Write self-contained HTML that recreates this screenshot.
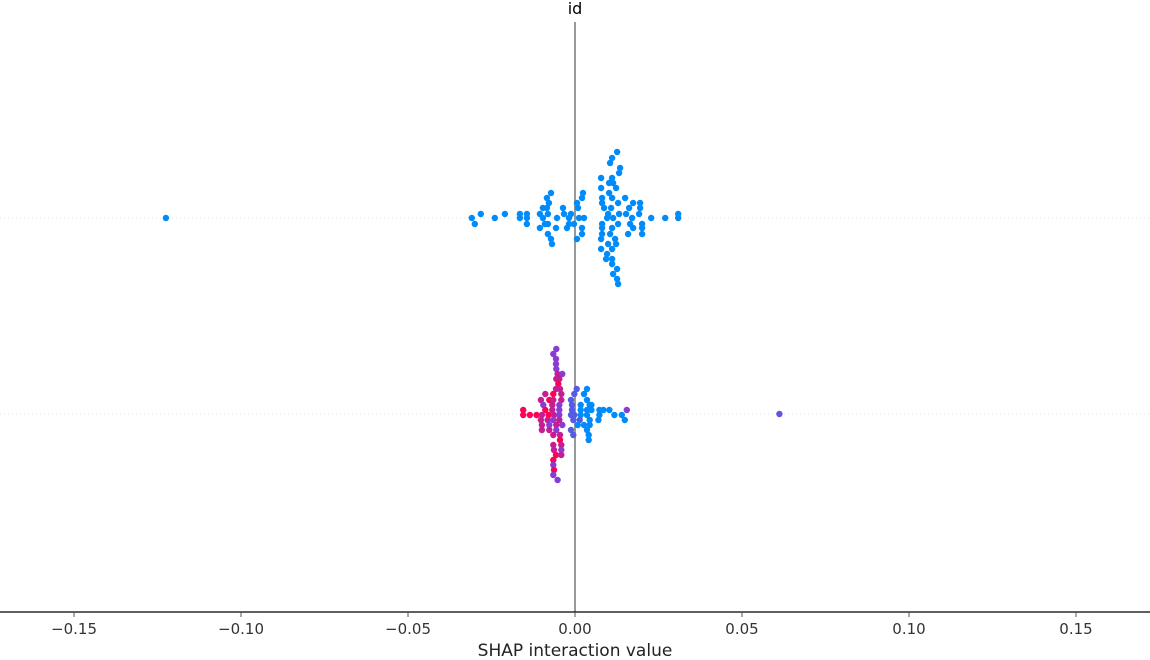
<!DOCTYPE html>
<html><head><meta charset="utf-8">
<style>
html,body{margin:0;padding:0;background:#fff;}
svg{display:block;font-family:"DejaVu Sans","Liberation Sans",sans-serif;}
</style></head>
<body>
<svg id="chart" width="1150" height="660" viewBox="0 0 1150 660" xmlns="http://www.w3.org/2000/svg">
<text x="575" y="14" text-anchor="middle" font-size="16" fill="#000">id</text>
<g id="grid"></g>
<line x1="575" y1="22" x2="575" y2="612" stroke="#999" stroke-width="2"/>
<g id="dots"></g>
<line x1="0" y1="612" x2="1150" y2="612" stroke="#000" stroke-width="1.2"/>
<g id="ticks"></g>
<text x="575" y="656" text-anchor="middle" font-size="17" fill="#222">SHAP interaction value</text>
</svg>
<script>
const tickValues = [-0.15, -0.10, -0.05, 0.00, 0.05, 0.10, 0.15];
const tickLabels = ["\u22120.15", "\u22120.10", "\u22120.05", "0.00", "0.05", "0.10", "0.15"];
const rowNames = ["row-1", "row-2"];

// row 1 (all low feature value = blue)
const row1Values = [-0.1225,-0.0309,-0.030,-0.0282,-0.024,-0.021,-0.0165,-0.0165,-0.0144,-0.0144,-0.0144,-0.0105,-0.0105,-0.0096,-0.0096,-0.009,-0.0084,-0.0084,-0.0081,-0.0081,-0.0081,-0.0078,-0.0072,-0.0072,-0.0069,-0.0057,-0.0054,-0.0036,-0.0033,-0.0024,-0.0018,-0.0018,-0.0012,-0.0003,0.0006,0.0006,0.0009,0.0012,0.0021,0.0021,0.0021,0.0024,0.0027,
0.0078,0.0078,0.0078,0.0078,0.0081,0.0081,0.0081,0.0081,0.0081,0.0087,0.0093,0.0096,0.0096,0.0099,0.0099,0.0102,0.0102,0.0105,0.0105,0.0108,0.0111,0.0111,0.0111,0.0111,0.0111,0.0111,0.0111,0.0114,0.0114,0.0114,0.012,0.0123,0.0123,0.0126,0.0126,0.0126,0.0129,0.0129,0.0129,0.0132,0.0132,0.0135,0.015,0.0153,0.0159,0.0162,0.0165,0.0171,0.0174,0.0174,0.0192,0.0195,0.0195,0.0201,0.0201,0.0201,0.0228,0.027,0.0309,0.0309];
const row1Offsets = [0,0,6,-4,0,-4,-4,0,-4,0,6,-4,10,-10,0,6,-20,-10,-4,6,16,-15,-25,21,26,10,0,-10,-4,10,0,6,-4,6,-15,21,-10,0,-20,10,16,-25,0,
-40,-30,21,31,-20,-15,6,10,16,-10,41,0,36,-4,26,-35,-25,-55,16,-10,-60,-40,-20,10,31,41,46,-35,0,56,21,-30,26,-66,51,61,-15,6,66,-45,-4,-50,-20,-4,16,-10,6,0,-15,10,-4,-15,-10,6,10,16,0,0,0,-4];

// row 2 values, offsets, feature values (0 = low/blue, 1 = high/red)
const row2Values = [-0.0056,-0.0065,-0.0057,-0.0057,-0.0056,-0.0052,-0.0038,-0.0047,-0.0056,-0.005,-0.0057,-0.0045,-0.0065,-0.0089,-0.0041,0.0005,0.0036,-0.0002,0.0027,
-0.0102,-0.0077,-0.0065,-0.0041,-0.0012,0.0036,
-0.0095,-0.0068,-0.0047,-0.0009,0.0044,0.0049,0.0017,
-0.0089,-0.0068,-0.0047,-0.0009,0.0017,0.0036,0.0049,0.0073,0.0085,0.0103,0.0155,
-0.0155,-0.0155,-0.0135,-0.0115,-0.0099,-0.0079,-0.0063,-0.0047,-0.0012,-0.0002,0.0017,0.0036,0.0073,0.0118,0.014,
-0.0102,-0.0082,-0.0065,-0.0047,-0.0005,0.0014,0.0044,0.007,0.0149,
-0.0099,-0.0077,-0.0056,-0.0038,0.0008,0.0027,0.0044,
-0.0099,-0.0077,-0.0056,-0.0012,0.0036,
-0.0065,-0.0045,-0.0005,0.0041,
-0.0045,0.0041,
-0.0065,-0.0041,-0.0063,-0.0041,-0.0057,-0.0041,-0.0065,-0.0065,-0.0063,-0.0065,-0.0052,
0.0612];
const row2Offsets = [-65,-60,-55,-50,-45,-40,-40,-35,-35,-30,-25,-25,-20,-20,-20,-25,-25,-20,-20,
-14,-14,-14,-14,-14,-14,
-9,-9,-9,-9,-9,-9,-9,
-4,-4,-4,-4,-4,-4,-4,-4,-4,-4,-4,
-4,1,1,1,1,1,1,1,1,1,1,1,1,1,1,
6,6,6,6,6,6,6,6,6,
11,11,11,11,11,11,11,
16,16,16,16,16,
21,21,21,21,
26,26,
31,31,36,36,41,41,46,51,56,61,66,
0];
const row2Features = [0.5,0.5,0.5,0.5,0.5,0.75,0.5,0.75,0.75,1,0.75,0.75,1,0.75,0.75,0.3,0,0.3,0,
0.75,1,0.75,0.75,0.3,0,
0.5,0.75,0.5,0.3,0,0,0,
1,0.75,0.5,0.3,0,0,0,0,0,0,0.5,
1,1,1,1,0.75,1,0.75,0.5,0.3,0.3,0,0,0,0,0,
0.75,0.75,0.5,0.75,0.3,0.3,0,0,0,
0.75,0.5,0.75,0.5,0,0,0,
0.75,0.75,0.5,0.3,0,
0.75,0.75,0.3,0,
1,0,
0.75,0.75,0.75,0.5,1,0.75,1,0.5,1,0.5,0.5,
0.35];

const NS = "http://www.w3.org/2000/svg";
const x0 = 575, pxPerUnit = 3340;
function xScale(v){ return x0 + v * pxPerUnit; }
const rowY = [218, 414];
function color(f){
  // blue -> purple -> red (SHAP colormap)
  const stops = [[0,[0,139,251]],[0.5,[138,60,210]],[1,[255,0,82]]];
  let a = stops[0], b = stops[2];
  if (f <= 0.5){ a = stops[0]; b = stops[1]; } else { a = stops[1]; b = stops[2]; }
  const t = (f - a[0]) / (b[0] - a[0]);
  const c = a[1].map((v,i)=>Math.round(v + (b[1][i]-v)*t));
  return "rgb(" + c.join(",") + ")";
}

const grid = document.getElementById("grid");
rowNames.forEach((n, i) => {
  const l = document.createElementNS(NS, "line");
  l.setAttribute("x1", 0); l.setAttribute("x2", 1150);
  l.setAttribute("y1", rowY[i]); l.setAttribute("y2", rowY[i]);
  l.setAttribute("stroke", "#ccc"); l.setAttribute("stroke-width", 0.6);
  l.setAttribute("stroke-dasharray", "1,3");
  
  
  grid.appendChild(l);
});

const dots = document.getElementById("dots");
function drawDot(v, dy, f, ry){
  const c = document.createElementNS(NS, "circle");
  c.setAttribute("cx", xScale(v).toFixed(1));
  c.setAttribute("cy", ry + dy);
  c.setAttribute("r", 3.2);
  c.setAttribute("fill", color(f));
  
  
  dots.appendChild(c);
}
row1Values.forEach((v, i) => drawDot(v, row1Offsets[i] || 0, 0, rowY[0]));
row2Values.forEach((v, i) => drawDot(v, row2Offsets[i] || 0, row2Features[i], rowY[1]));

const ticks = document.getElementById("ticks");
tickValues.forEach((v, i) => {
  const x = xScale(v);
  const t = document.createElementNS(NS, "line");
  t.setAttribute("x1", x); t.setAttribute("x2", x);
  t.setAttribute("y1", 612); t.setAttribute("y2", 617);
  t.setAttribute("stroke", "#555"); t.setAttribute("stroke-width", 1);
  
  
  ticks.appendChild(t);
  const tx = document.createElementNS(NS, "text");
  tx.setAttribute("x", x); tx.setAttribute("y", 634);
  tx.setAttribute("text-anchor", "middle");
  tx.setAttribute("font-size", "15");
  tx.setAttribute("fill", "#333");
  tx.textContent = tickLabels[i];
  
  
  ticks.appendChild(tx);
});
</script>
</body></html>
